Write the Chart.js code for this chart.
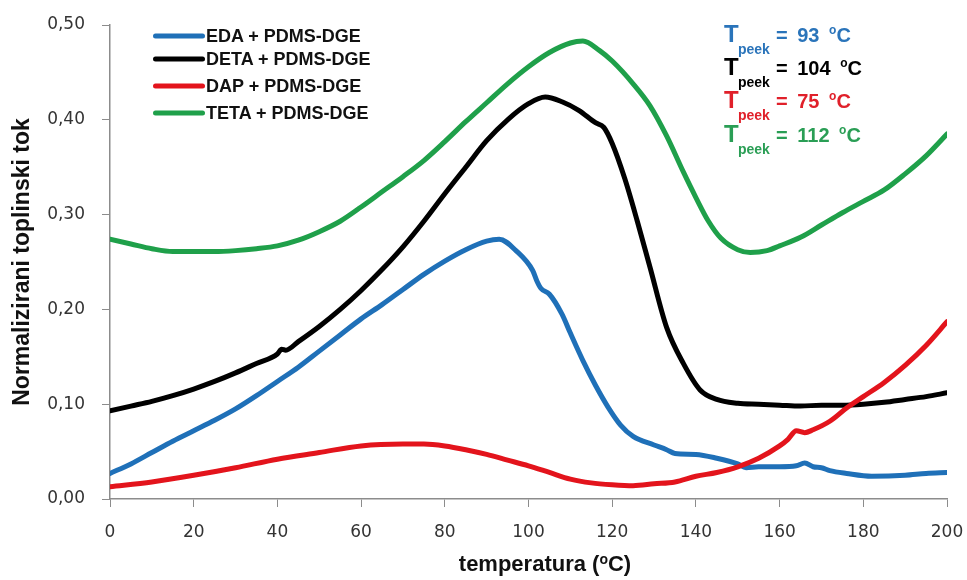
<!DOCTYPE html>
<html>
<head>
<meta charset="utf-8">
<script src="https://cdn.jsdelivr.net/npm/chart.js@4.4.1/dist/chart.umd.min.js"></script>
<style>
  html, body { margin: 0; padding: 0; background: #fff; }
  #wrap { position: relative; width: 967px; height: 580px; overflow: hidden; }
  canvas { position: absolute; left: 0; top: 0; }
  .leg { position: absolute; font-family: "Liberation Sans", Arial, sans-serif; font-weight: bold; font-size: 18px; color: #111; transform: translateY(-50%); white-space: nowrap; line-height: 1; }
  .legline { position: absolute; height: 5px; border-radius: 3px; transform: translateY(-50%); }
  .ann { position: absolute; font-family: "Liberation Sans", Arial, sans-serif; font-weight: bold; transform: translateY(-50%); white-space: nowrap; line-height: 1; }
  .annT { font-size: 24px; }
  .annS { font-size: 14px; }
  .annE { font-size: 20px; word-spacing: 4px; }
  .annE sup { font-size: 12px; vertical-align: 8px; }
  #xt { position: absolute; left: 545px; top: 563px; transform: translate(-50%, -50%); font-family: "Liberation Sans", Arial, sans-serif; font-weight: bold; font-size: 22px; color: #111; white-space: nowrap; line-height: 1; }
  #xt sup { font-size: 14px; vertical-align: 7px; }
</style>
</head>
<body>
<div id="wrap">
  <canvas id="c" width="967" height="580"></canvas>
</div>
<script>
// ---- data ----
const seriesNames = ["EDA + PDMS-DGE", "DETA + PDMS-DGE", "DAP + PDMS-DGE", "TETA + PDMS-DGE"];
const seriesColors = ["#1F70B8", "#000000", "#E3141C", "#1FA04A"];

const edaT = [0,5,10,15,20,25,30,35,40,45,50,55,60,65,70,75,80,85,90,93,97,101,102,103,105,108,110,113,116,119,122,125,130,133,135,140,145,150,152,155,160,164,166,168,170,172,176,182,190,195,200];
const edaV = [0.027,0.037,0.049,0.061,0.072,0.083,0.095,0.109,0.124,0.139,0.156,0.173,0.190,0.205,0.221,0.237,0.251,0.263,0.272,0.274,0.262,0.241,0.230,0.222,0.216,0.195,0.175,0.146,0.120,0.097,0.078,0.066,0.057,0.052,0.048,0.047,0.043,0.037,0.033,0.034,0.034,0.035,0.038,0.034,0.033,0.030,0.027,0.024,0.025,0.027,0.028];

const detaT = [0,5,10,15,20,25,30,35,40,41,42,45,50,55,60,65,70,75,80,85,90,95,100,104,108,112,116,118,120,123,126,129,133,137,141,145,150,155,160,165,170,175,180,185,190,195,200];
const detaV = [0.093,0.098,0.103,0.109,0.116,0.124,0.133,0.143,0.153,0.158,0.157,0.166,0.182,0.200,0.220,0.242,0.266,0.293,0.322,0.350,0.378,0.400,0.417,0.424,0.419,0.410,0.397,0.392,0.375,0.338,0.293,0.245,0.181,0.143,0.115,0.105,0.101,0.100,0.099,0.098,0.099,0.099,0.100,0.102,0.105,0.108,0.112];

const dapT = [0,10,20,30,40,50,60,70,75,80,85,90,95,100,105,110,115,120,125,130,135,140,145,150,155,160,162,164,166,168,172,176,180,185,190,195,200];
const dapV = [0.013,0.018,0.025,0.033,0.042,0.049,0.056,0.058,0.058,0.056,0.052,0.047,0.041,0.035,0.028,0.021,0.017,0.015,0.014,0.016,0.018,0.024,0.028,0.034,0.043,0.056,0.063,0.072,0.070,0.073,0.082,0.096,0.108,0.123,0.141,0.162,0.187];

const tetaT = [0,5,10,15,20,25,30,35,40,45,50,55,60,65,70,75,80,85,90,95,100,105,110,113,117,120,125,129,133,137,140,143,146,150,153,157,160,165,170,175,180,185,190,195,200];
const tetaV = [0.274,0.269,0.264,0.261,0.261,0.261,0.262,0.264,0.267,0.273,0.282,0.293,0.308,0.324,0.340,0.357,0.377,0.398,0.418,0.438,0.456,0.471,0.481,0.483,0.473,0.462,0.438,0.415,0.383,0.345,0.318,0.293,0.275,0.263,0.260,0.262,0.267,0.276,0.289,0.302,0.314,0.326,0.343,0.362,0.385];

const peakLabels = ["= 93 ", "= 104 ", "= 75 ", "= 112 "];
const peakColors = ["#2A74BA", "#000000", "#E0202A", "#2A9E55"];

const xTicks = [0,20,40,60,80,100,120,140,160,180,200];
const yTicks = [0,0.1,0.2,0.3,0.4,0.5];
const xTitleMain = "temperatura (";
const xTitleTail = "C)";
const yTitle = "Normalizirani toplinski tok";

// ---- build ----
function pts(t, v) { return t.map((x, i) => ({x: x, y: v[i]})); }
const allT = [edaT, detaT, dapT, tetaT];
const allV = [edaV, detaV, dapV, tetaV];

const datasets = seriesNames.map((n, i) => ({
  label: n,
  data: pts(allT[i], allV[i]),
  borderColor: seriesColors[i],
  backgroundColor: seriesColors[i],
  borderWidth: 5,
  pointRadius: 0,
  fill: false,
  cubicInterpolationMode: 'monotone',
  borderCapStyle: 'round',
  borderJoinStyle: 'round',
  order: 3 - i
}));

const tickFont = { family: "'DejaVu Sans', Verdana, sans-serif", size: 17 };
const titleFont = { family: "'Liberation Sans', Arial, sans-serif", size: 23, weight: 'bold' };

new Chart(document.getElementById('c'), {
  type: 'line',
  data: { datasets: datasets },
  options: {
    responsive: false,
    animation: false,
    devicePixelRatio: 1,
    layout: { padding: { top: 25, right: 20, left: 0, bottom: 0 } },
    plugins: { legend: { display: false }, tooltip: { enabled: false } },
    scales: {
      x: {
        type: 'linear', min: 0, max: 200,
        afterBuildTicks: s => { s.ticks = xTicks.map(v => ({value: v})); },
        afterFit: s => { s.height = 81; s.paddingLeft = 0; s.paddingRight = 0; },
        ticks: { font: tickFont, color: '#333', padding: 15, maxRotation: 0 },
        grid: { drawOnChartArea: false, drawTicks: true, tickLength: 8, color: '#8c8c8c', lineWidth: 1 },
        border: { color: '#8c8c8c', width: 1.5 },
        title: { display: false }
      },
      y: {
        min: 0, max: 0.5,
        afterBuildTicks: s => { s.ticks = yTicks.map(v => ({value: v})); },
        afterFit: s => { s.width = 110; s.paddingTop = 0; s.paddingBottom = 0; },
        ticks: { font: tickFont, color: '#333', padding: 17, callback: v => v.toFixed(2).replace('.', ',') },
        grid: { drawOnChartArea: false, drawTicks: true, tickLength: 8, color: '#8c8c8c', lineWidth: 1 },
        border: { color: '#8c8c8c', width: 1.5 },
        title: { display: true, text: yTitle, font: titleFont, color: '#111', padding: { top: 9, bottom: 0 } }
      }
    }
  }
});

// ---- legend, x title and peak annotations (HTML text) ----
const wrap = document.getElementById('wrap');
const xt = document.createElement('div');
xt.id = 'xt';
xt.innerHTML = xTitleMain + '<sup>o</sup>' + xTitleTail;
wrap.appendChild(xt);

const legY = [36, 59, 86, 113];
seriesNames.forEach((n, i) => {
  const l = document.createElement('div');
  l.className = 'legline';
  l.style.left = '153px'; l.style.top = legY[i] + 'px'; l.style.width = '52px';
  l.style.background = seriesColors[i];
  wrap.appendChild(l);
  const t = document.createElement('div');
  t.className = 'leg';
  t.style.left = '206px'; t.style.top = legY[i] + 'px';
  t.textContent = n;
  wrap.appendChild(t);
});
const annY = [34, 67, 100, 134];
peakLabels.forEach((p, i) => {
  const T = document.createElement('div');
  T.className = 'ann annT'; T.style.left = '724px'; T.style.top = annY[i] + 'px'; T.style.color = peakColors[i];
  T.textContent = 'T';
  wrap.appendChild(T);
  const S = document.createElement('div');
  S.className = 'ann annS'; S.style.left = '738px'; S.style.top = (annY[i] + 15) + 'px'; S.style.color = peakColors[i];
  S.textContent = 'peek';
  wrap.appendChild(S);
  const E = document.createElement('div');
  E.className = 'ann annE'; E.style.left = '776px'; E.style.top = annY[i] + 'px'; E.style.color = peakColors[i];
  E.innerHTML = p + '<sup>o</sup>C';
  wrap.appendChild(E);
});
</script>
</body>
</html>
